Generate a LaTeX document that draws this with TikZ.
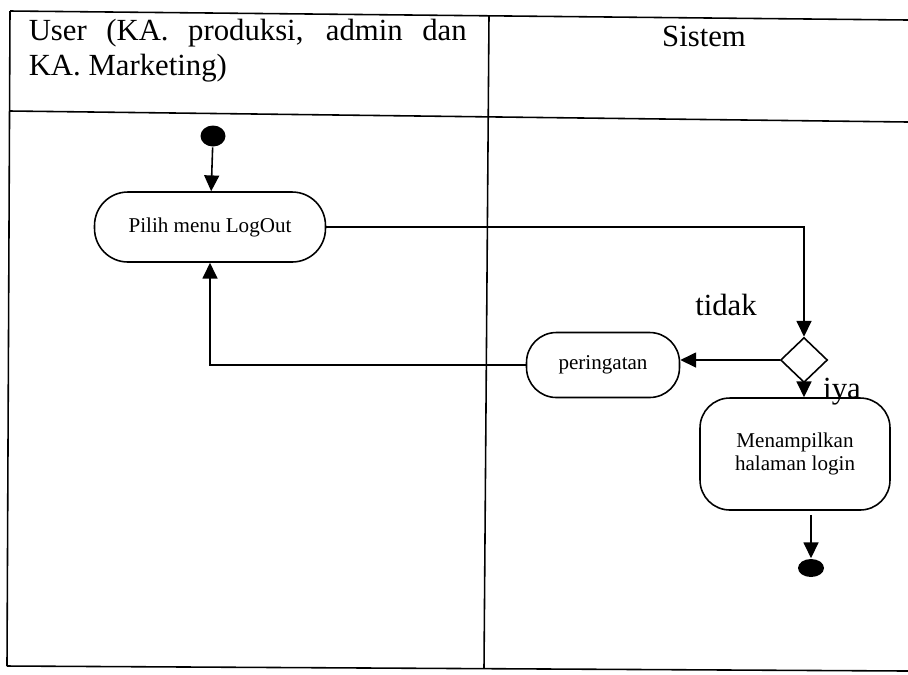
\documentclass[tikz,border=0pt]{standalone}
\usepackage{fontspec}
\setmainfont{Liberation Serif}
\usetikzlibrary{shapes.geometric, positioning, arrows.meta, calc}

\begin{document}
\begin{tikzpicture}[x=0.02cm, y=-0.02cm, line width=0.9pt,
    aktivitas/.style={draw, rounded corners=17pt, align=center, inner sep=2pt,
        font=\fontsize{12}{13}\selectfont},
    titik/.style={ellipse, fill=black, inner sep=0pt},
    keputusan/.style={draw, diamond, inner sep=0pt, minimum width=0.94cm, minimum height=0.9cm},
    judul/.style={font=\fontsize{17.5}{20}\selectfont},
    alur/.style={-{Triangle[length=9pt,width=8.5pt]}}]
    \useasboundingbox (0,0) rectangle (908,674);

    % lajur
    \draw (10,11) -- (908,20);
    \draw (10,111) -- (908,122);
    \draw (7,666) -- (908,671);
    \draw (10,11) -- (7,666);
    \draw (489,15) -- (484,668);
    \node[judul, anchor=north west, text width=8.76cm, align=justify, inner sep=0pt] (user) at (28,18)
        {User (KA. produksi, admin dan\linebreak KA. Marketing)};
    \node[judul, anchor=base] (sistem) at (704,46) {Sistem};

    % aktivitas
    \node[titik, minimum width=0.5cm, minimum height=0.42cm] (mulai) at (213,136) {};
    \node[aktivitas, rounded corners=19pt, minimum width=4.62cm, minimum height=1.4cm] (pilih) at (210,227) {Pilih menu LogOut};
    \node[keputusan] (cek) at (804,360) {};
    \node[aktivitas, minimum width=3.06cm, minimum height=1.3cm] (peringatan) at (603,365) {peringatan};
    \node[aktivitas, minimum width=3.8cm, minimum height=2.24cm] (tampil) at (795,454) {Menampilkan\\halaman login};
    \node[titik, minimum width=0.52cm, minimum height=0.36cm] (selesai) at (811,568) {};
    \node[judul, anchor=base] (tidak) at (726,315) {tidak};
    \node[judul, anchor=base] (iya) at (842,398) {iya};

    \draw[alur] (mulai) -- (pilih);
    \draw[alur] (pilih.east) -| (cek.north);
    \draw[alur] (cek.west) -- (cek.west -| peringatan.east);
    \draw[alur] (peringatan.west) -| (pilih.south);
    \draw[alur] (cek.south) -- (cek.south |- tampil.north);
    \draw[alur] ($(tampil.south -| selesai)+(0,4)$) -- (selesai);
\end{tikzpicture}
\end{document}
